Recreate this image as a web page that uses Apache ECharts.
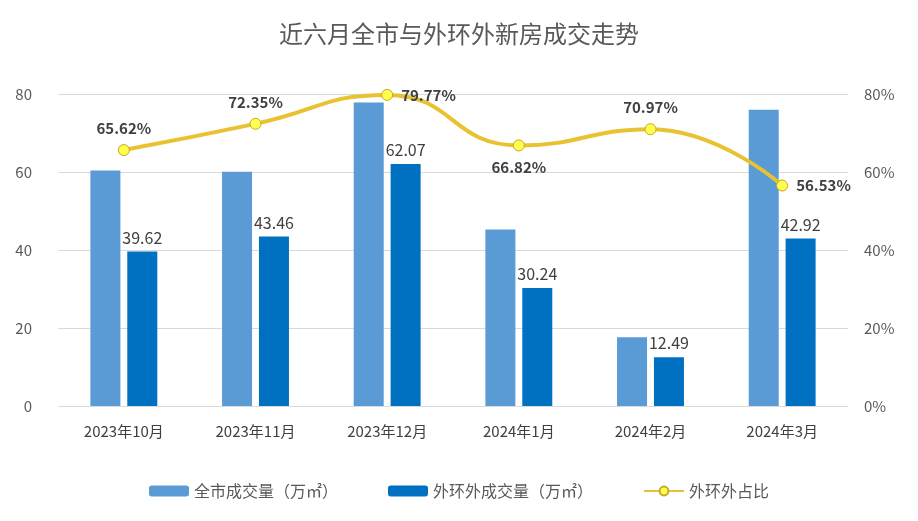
<!DOCTYPE html>
<html><head><meta charset="utf-8">
<script src="https://cdn.jsdelivr.net/npm/echarts@6/dist/echarts.min.js"></script>
<style>html,body{margin:0;padding:0;background:#fff}#c{width:918px;height:521px}</style>
</head><body><div id="c"></div>
<script>
const categories = ['2023年10月','2023年11月','2023年12月','2024年1月','2024年2月','2024年3月'];
const cityTotal = [60.38, 60.07, 77.81, 45.26, 17.60, 75.93];
const outerRing = [39.62, 43.46, 62.07, 30.24, 12.49, 42.92];
const outerShare = [65.62, 72.35, 79.77, 66.82, 70.97, 56.53];
const sharePos = ['top','top','right','bottom','top','right'];
const leftTicks = [0, 20, 40, 60, 80];

const chart = echarts.init(document.getElementById('c'));
const font = '"Microsoft YaHei","Noto Sans CJK SC",sans-serif';
chart.setOption({
  backgroundColor: '#fff',
  textStyle: {fontFamily: font},
  title: {text: '近六月全市与外环外新房成交走势', left: 'center', top: 17,
    textStyle: {fontSize: 24, fontWeight: 'normal', color: '#595959', fontFamily: font}},
  legend: {bottom: 17, itemGap: 50, itemWidth: 40, itemHeight: 11,
    textStyle: {fontSize: 16, color: '#595959', fontFamily: font},
    data: ['全市成交量（万㎡）','外环外成交量（万㎡）','外环外占比']},
  grid: {left: 58, right: 70, top: 94, bottom: 115},
  xAxis: {type: 'category', data: categories,
    axisLine: {show: false}, axisTick: {show: false},
    axisLabel: {fontSize: 15, color: '#404040', margin: 18, fontFamily: font}},
  yAxis: [
    {type: 'value', min: 0, max: 80, interval: 20,
      axisLabel: {fontSize: 15, color: '#595959', margin: 26},
      splitLine: {lineStyle: {color: '#d9d9d9', width: 1}}},
    {type: 'value', min: 0, max: 80, interval: 20,
      axisLabel: {fontSize: 15, color: '#595959', formatter: '{value}%', margin: 16},
      splitLine: {show: false}}
  ],
  series: [
    {name: '全市成交量（万㎡）', type: 'bar', data: cityTotal, barWidth: 30, barGap: '23%',
      itemStyle: {color: '#5B9BD5'}},
    {name: '外环外成交量（万㎡）', type: 'bar', data: outerRing, barWidth: 30,
      itemStyle: {color: '#0070C0'},
      label: {show: true, position: 'top', fontSize: 16, color: '#404040', distance: 6}},
    {name: '外环外占比', type: 'line', yAxisIndex: 1, smooth: 0.5,
      data: outerShare.map((v, i) => ({value: v, label: {position: sharePos[i]}})),
      symbol: 'circle', symbolSize: 11,
      lineStyle: {color: '#E9C232', width: 4},
      itemStyle: {color: '#FFFF4D', borderColor: '#C9A626', borderWidth: 1},
      label: {show: true, fontSize: 15, fontWeight: 'bold', color: '#404040',
        formatter: p => p.value.toFixed(2) + '%', distance: 8},
      z: 5}
  ]
});
</script></body></html>
